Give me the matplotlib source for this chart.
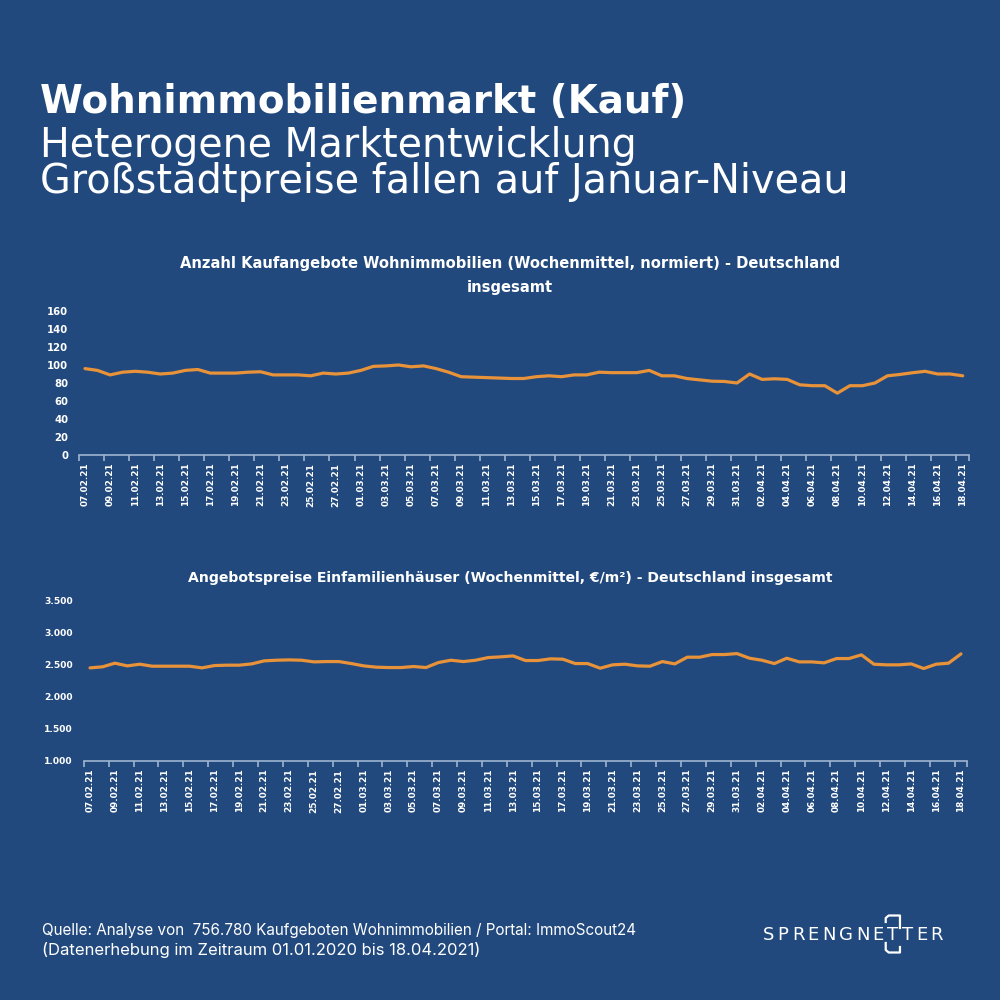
import matplotlib
matplotlib.use('Agg')
import matplotlib.pyplot as plt
from matplotlib.lines import Line2D

# dates shown on the x axis (every day, label every 2nd)
dates = ['07.02.21', '08.02.21', '09.02.21', '10.02.21', '11.02.21', '12.02.21', '13.02.21',
         '14.02.21', '15.02.21', '16.02.21', '17.02.21', '18.02.21', '19.02.21', '20.02.21',
         '21.02.21', '22.02.21', '23.02.21', '24.02.21', '25.02.21', '26.02.21', '27.02.21',
         '28.02.21', '01.03.21', '02.03.21', '03.03.21', '04.03.21', '05.03.21', '06.03.21',
         '07.03.21', '08.03.21', '09.03.21', '10.03.21', '11.03.21', '12.03.21', '13.03.21',
         '14.03.21', '15.03.21', '16.03.21', '17.03.21', '18.03.21', '19.03.21', '20.03.21',
         '21.03.21', '22.03.21', '23.03.21', '24.03.21', '25.03.21', '26.03.21', '27.03.21',
         '28.03.21', '29.03.21', '30.03.21', '31.03.21', '01.04.21', '02.04.21', '03.04.21',
         '04.04.21', '05.04.21', '06.04.21', '07.04.21', '08.04.21', '09.04.21', '10.04.21',
         '11.04.21', '12.04.21', '13.04.21', '14.04.21', '15.04.21', '16.04.21', '17.04.21',
         '18.04.21']

# Anzahl Kaufangebote (normiert)
angebote = [96, 94, 89, 92, 93, 92, 90, 91, 94, 95, 91, 91, 91, 92, 92.5, 89, 89, 89, 88, 91,
            90, 91, 94, 98.5, 99, 100, 98, 99, 96, 92, 87, 86.5, 86, 85.5, 85,
            85, 87, 88, 87, 89, 89, 92, 91.5, 91.5, 91.5, 94, 88, 88, 85, 83.5, 82, 81.7, 80,
            90, 84, 84.7, 84, 78, 77, 77, 68.7, 77, 77, 80, 88, 89.5, 91.4, 93, 90, 90, 88]

# Angebotspreise Einfamilienhaeuser (EUR/m2)
preise = [2446, 2462, 2519, 2477, 2503, 2472, 2472, 2472, 2472, 2446, 2482, 2488, 2488, 2508,
          2555, 2565, 2570, 2565, 2539, 2544, 2544, 2513, 2477, 2457, 2451, 2451, 2467, 2451,
          2529, 2565, 2544, 2565, 2606, 2617, 2632,
          2560, 2560, 2586, 2581, 2513, 2513, 2441, 2493, 2503, 2477, 2472, 2544, 2508, 2612,
          2612, 2653, 2653, 2668, 2596, 2565, 2513, 2596, 2539, 2539, 2524, 2591, 2591, 2648,
          2503, 2493, 2493, 2508, 2436, 2503, 2519, 2663]

top_yticks = [0, 20, 40, 60, 80, 100, 120, 140, 160]
bottom_yticks = [1000, 1500, 2000, 2500, 3000, 3500]

bg = '#21497d'
orange = '#e8923a'
axis_col = '#9fb4d0'
head_font = ['DejaVu Sans']
foot_font = ['Inter', 'DejaVu Sans']

plt.rcParams['font.family'] = ['DejaVu Sans']

fig = plt.figure(figsize=(10, 10), dpi=100, facecolor=bg)
renderer = fig.canvas.get_renderer()


def fit(t, target_px):
    # scale a text so its width matches the reference
    w = t.get_window_extent(renderer).width
    t.set_fontsize(t.get_fontsize() * target_px / w)
    return t


def style_axis(ax, yticks, yfmt, ysize, pad):
    ax.set_facecolor(bg)
    for s in ['top', 'right', 'left']:
        ax.spines[s].set_visible(False)
    ax.spines['bottom'].set_color(axis_col)
    ax.spines['bottom'].set_linewidth(1.2)
    x = list(range(len(dates)))
    ax.set_xlim(-0.5, len(dates) - 0.5)
    ax.set_xticks(x[::2])
    ax.set_xticklabels(dates[::2], rotation=90, fontsize=6.4, color='white', fontweight='bold')
    ax.set_xticks([i - 0.5 for i in x[::2]] + [len(dates) - 0.5], minor=True)
    ax.tick_params(axis='x', which='major', length=0, pad=5.5)
    ax.tick_params(axis='x', which='minor', length=4, color=axis_col, width=1.2)
    ax.set_yticks(yticks)
    ax.set_yticklabels([yfmt(v) for v in yticks], fontsize=ysize, color='white', fontweight='bold')
    ax.tick_params(axis='y', length=0, pad=pad)
    ax.set_ylim(yticks[0], yticks[-1])
    return x


# upper chart
ax1 = fig.add_axes([0.0787, 0.545, 0.8903, 0.144])
x = style_axis(ax1, top_yticks, lambda v: str(v), 7.3, 7.5)
ax1.plot(x, angebote, color=orange, linewidth=2.3, solid_capstyle='round', clip_on=False)

# lower chart
ax2 = fig.add_axes([0.0838, 0.239, 0.8834, 0.161])
x = style_axis(ax2, bottom_yticks, lambda v: f'{v:,}'.replace(',', '.'), 6.6, 8)
ax2.plot(x, preise, color=orange, linewidth=2.3, solid_capstyle='round', clip_on=False)

# chart titles
t1 = fig.text(0.51, 1 - 0.268, 'Anzahl Kaufangebote Wohnimmobilien (Wochenmittel, normiert) - Deutschland',
              fontsize=10, fontweight='bold', color='white', ha='center', va='baseline')
fit(t1, 658)
fig.text(0.51, 1 - 0.292, 'insgesamt', fontsize=t1.get_fontsize(), fontweight='bold',
         color='white', ha='center', va='baseline')
t2 = fig.text(0.51, 1 - 0.582, 'Angebotspreise Einfamilienhäuser (Wochenmittel, €/m²) - Deutschland insgesamt',
              fontsize=10, fontweight='bold', color='white', ha='center', va='baseline')
fit(t2, 644)

# headline
fit(fig.text(0.04, 1 - 0.113, 'Wohnimmobilienmarkt (Kauf)', fontsize=30, fontweight='bold',
             color='white', family=head_font, va='baseline'), 646)
fit(fig.text(0.04, 1 - 0.157, 'Heterogene Marktentwicklung', fontsize=28,
             color='white', family=head_font, va='baseline'), 596)
fit(fig.text(0.04, 1 - 0.193, 'Großstadtpreise fallen auf Januar-Niveau', fontsize=28,
             color='white', family=head_font, va='baseline'), 808)

# footer
fit(fig.text(0.042, 1 - 0.935, 'Quelle: Analyse von  756.780 Kaufgeboten Wohnimmobilien / Portal: ImmoScout24',
             fontsize=11.5, color='white', family=foot_font, va='baseline'), 597)
fit(fig.text(0.042, 1 - 0.955, '(Datenerhebung im Zeitraum 01.01.2020 bis 18.04.2021)',
             fontsize=11.5, color='white', family=foot_font, va='baseline'), 440)

# logo: letter spaced word plus bracket around the first T
logo = 'SPRENGNETTER'
logo_x0, logo_x1 = 763, 943
letters = [fig.text(0, 1 - 0.940, c, fontsize=13, color='white', family=head_font,
                    va='baseline') for c in logo]
widths = [t.get_window_extent(renderer).width for t in letters]
gap = (logo_x1 - logo_x0 - sum(widths)) / (len(logo) - 1)
pos = logo_x0
lefts = []
for t, w in zip(letters, widths):
    t.set_x(pos / 1000)
    lefts.append(pos)
    pos += w + gap
bl = lefts[8] - 1.5
br = lefts[8] + widths[8] + gap / 2
for xs, ys in [([bl, bl, bl + 3, br, br], [922, 918, 915.5, 915.5, 928]),
               ([bl, bl, bl + 3, br, br], [943, 950, 952.5, 952.5, 947])]:
    fig.add_artist(Line2D([v / 1000 for v in xs], [1 - v / 1000 for v in ys], color='white',
                          linewidth=1.6, transform=fig.transFigure))

fig.savefig('out.png', dpi=100, facecolor=bg)
